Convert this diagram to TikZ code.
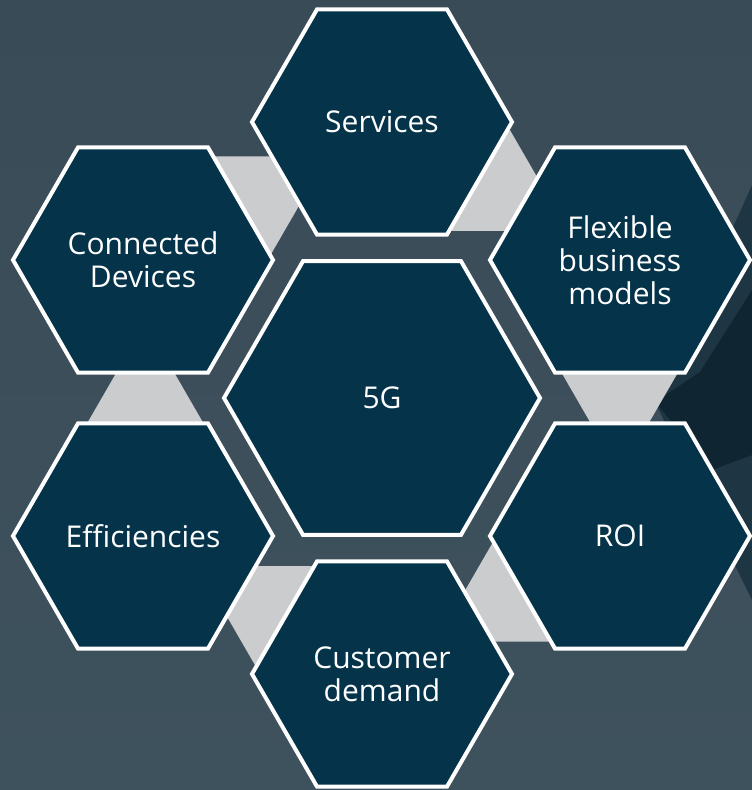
\documentclass[tikz,border=0pt]{standalone}
\usepackage{fontspec}
\setmainfont{Open Sans}
\usetikzlibrary{shapes.geometric}
\definecolor{bgtop}{HTML}{394B57}
\definecolor{bgbot}{HTML}{3E525D}
\definecolor{navy}{HTML}{04334A}
\definecolor{linkgray}{HTML}{CBCCCE}
\definecolor{darkA}{HTML}{1E3643}
\definecolor{darkB}{HTML}{0F2532}
\begin{document}
\begin{tikzpicture}[x=1pt,y=-1pt,
  hexa/.style={regular polygon, regular polygon sides=6,
    draw=white, line width=4pt, fill=navy, text=white, inner sep=0pt,
    align=center, font=\fontsize{30}{33}\selectfont},
  outerhex/.style={hexa, minimum size=260pt},
  centerhex/.style={hexa, minimum size=316pt},
  linkhex/.style={regular polygon, regular polygon sides=6,
    fill=linkgray, draw=none, inner sep=0pt, minimum size=116pt}]
\useasboundingbox (0,0) rectangle (752,790);
\shade[top color=bgtop, bottom color=bgbot] (0,0) rectangle (752,790);
% dark background chevron on the right
\fill[darkA] (752,185) -- (655,402) -- (752,600) -- cycle;
\fill[darkB] (752,290) -- (700,372) -- (655,402) -- (712,470) -- (752,455) -- cycle;
% gray links
\node[linkhex] (g1) at (619.7,373.0) {};
\node[linkhex] (g2) at (481.2,180.7) {};
\node[linkhex] (g3) at (240.5,206.6) {};
\node[linkhex] (g4) at (145.3,423.0) {};
\node[linkhex] (g5) at (284.8,616.3) {};
\node[linkhex] (g6) at (522.5,591.4) {};
% hexagons
\node[centerhex] (fiveg) at (382,398) {5G};
\node[outerhex] (services) at (382,122) {Services};
\node[outerhex] (flex) at (620,260) {Flexible\\business\\models};
\node[outerhex] (roi) at (620,536) {ROI};
\node[outerhex] (cust) at (382,674) {Customer\\demand};
\node[outerhex] (eff) at (143,536) {Efficiencies};
\node[outerhex] (conn) at (143,260) {Connected\\Devices};
\end{tikzpicture}
\end{document}
